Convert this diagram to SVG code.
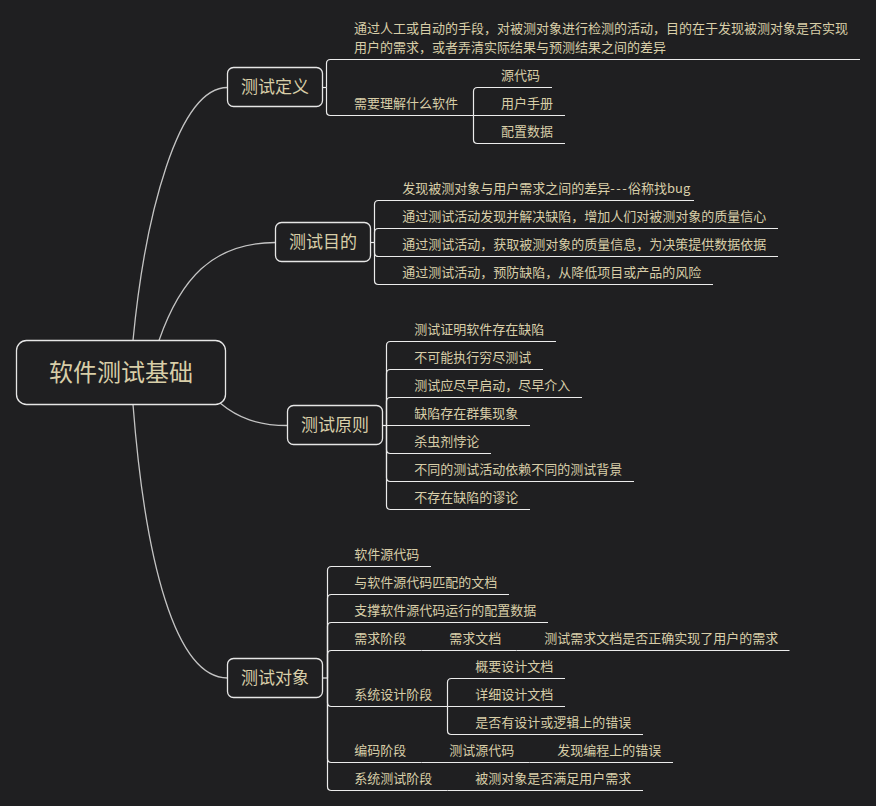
<svg xmlns="http://www.w3.org/2000/svg" width="876" height="806" viewBox="0 0 876 806">
<style>
.bg{fill:#1f1f21}
.node{fill:#1f1f21;stroke:#e6e6e6;stroke-width:1.3}
.curve{fill:none;stroke:#c4c4c4;stroke-width:1.3}
.line{fill:none;stroke:#ececec;stroke-width:1.2}
text{font-family:"Noto Sans CJK SC","Microsoft YaHei","Noto Sans",sans-serif;fill:#d8cea8}
.root{font-size:24px;text-anchor:middle}
.mid{font-size:17px;text-anchor:middle}
.leaf{font-size:13px}
</style>
<rect class="bg" x="0" y="0" width="876" height="806"/>

<g id="connectors">
  <path class="curve" d="M133,340.5 C145,215 178,87.5 227.5,87.5"/>
  <path class="curve" d="M159,340.5 C180,280 212,242.5 275.5,242.5"/>
  <path class="curve" d="M220,403 C238,418 258,425.5 287.5,425.5"/>
  <path class="curve" d="M133,404.5 C145,560 175,678 227.5,678"/>

  <!-- 测试定义 -->
  <path class="line" d="M322.5,87.5 H326.5"/>
  <path class="line" d="M326.5,87.5 V63.5 Q326.5,59.5 330.5,59.5 H860"/>
  <path class="line" d="M326.5,87.5 V111.5 Q326.5,115.5 330.5,115.5 H473.5"/>
  <path class="line" d="M473.5,115.5 V91.5 Q473.5,87.5 477.5,87.5 H552"/>
  <path class="line" d="M473.5,115.5 H565"/>
  <path class="line" d="M473.5,115.5 V139.5 Q473.5,143.5 477.5,143.5 H565"/>

  <!-- 测试目的 -->
  <path class="line" d="M370.5,242.5 H374.5"/>
  <path class="line" d="M374.5,242.5 V204.5 Q374.5,200.5 378.5,200.5 H694"/>
  <path class="line" d="M374.5,242.5 V232.5 Q374.5,228.5 378.5,228.5 H778"/>
  <path class="line" d="M374.5,242.5 V252.5 Q374.5,256.5 378.5,256.5 H778"/>
  <path class="line" d="M374.5,242.5 V280.5 Q374.5,284.5 378.5,284.5 H713"/>

  <!-- 测试原则 -->
  <path class="line" d="M382.5,425.5 H386.5"/>
  <path class="line" d="M386.5,425.5 V345.5 Q386.5,341.5 390.5,341.5 H556"/>
  <path class="line" d="M386.5,425.5 V373.5 Q386.5,369.5 390.5,369.5 H543"/>
  <path class="line" d="M386.5,425.5 V401.5 Q386.5,397.5 390.5,397.5 H582"/>
  <path class="line" d="M386.5,425.5 H530"/>
  <path class="line" d="M386.5,425.5 V449.5 Q386.5,453.5 390.5,453.5 H491"/>
  <path class="line" d="M386.5,425.5 V477.5 Q386.5,481.5 390.5,481.5 H634"/>
  <path class="line" d="M386.5,425.5 V505.5 Q386.5,509.5 390.5,509.5 H530"/>

  <!-- 测试对象 -->
  <path class="line" d="M322.5,678 H327.5"/>
  <path class="line" d="M327.5,678 V570.5 Q327.5,566.5 331.5,566.5 H431"/>
  <path class="line" d="M327.5,678 V598.5 Q327.5,594.5 331.5,594.5 H509"/>
  <path class="line" d="M327.5,678 V626.5 Q327.5,622.5 331.5,622.5 H548"/>
  <path class="line" d="M327.5,678 V654.5 Q327.5,650.5 331.5,650.5 H421.5"/>
  <path class="line" d="M421.5,650.5 H516.5"/>
  <path class="line" d="M516.5,650.5 H789.5"/>
  <path class="line" d="M327.5,678 V702.5 Q327.5,706.5 331.5,706.5 H447.5"/>
  <path class="line" d="M447.5,706.5 V682.5 Q447.5,678.5 451.5,678.5 H565"/>
  <path class="line" d="M447.5,706.5 H565"/>
  <path class="line" d="M447.5,706.5 V730.5 Q447.5,734.5 451.5,734.5 H643"/>
  <path class="line" d="M327.5,678 V758.5 Q327.5,762.5 331.5,762.5 H421.5"/>
  <path class="line" d="M421.5,762.5 H529.5"/>
  <path class="line" d="M529.5,762.5 H673"/>
  <path class="line" d="M327.5,678 V786.5 Q327.5,790.5 331.5,790.5 H447.5"/>
  <path class="line" d="M447.5,790.5 H643"/>
</g>

<g id="root">
  <rect class="node" x="16.5" y="340.5" width="209" height="64" rx="10"/>
  <text class="root" x="121" y="381">软件测试基础</text>
</g>

<g id="n-def">
  <rect class="node" x="227.5" y="67.5" width="95" height="39" rx="6"/>
  <text class="mid" x="275" y="93">测试定义</text>
</g>
<g id="n-def-1">
  <text class="leaf" x="354" y="33">通过人工或自动的手段，对被测对象进行检测的活动，目的在于发现被测对象是否实现</text>
  <text class="leaf" x="354" y="52">用户的需求，或者弄清实际结果与预测结果之间的差异</text>
</g>
<g id="n-def-2"><text class="leaf" x="354" y="108">需要理解什么软件</text></g>
<g id="n-def-2a"><text class="leaf" x="501" y="80">源代码</text></g>
<g id="n-def-2b"><text class="leaf" x="501" y="108">用户手册</text></g>
<g id="n-def-2c"><text class="leaf" x="501" y="136">配置数据</text></g>

<g id="n-goal">
  <rect class="node" x="275.5" y="222.5" width="95" height="39" rx="6"/>
  <text class="mid" x="323" y="248">测试目的</text>
</g>
<g id="n-goal-1"><text class="leaf" x="402.3" y="193">发现被测对象与用户需求之间的差异<tspan letter-spacing="1.4">---</tspan>俗称找bug</text></g>
<g id="n-goal-2"><text class="leaf" x="402.3" y="221">通过测试活动发现并解决缺陷，增加人们对被测对象的质量信心</text></g>
<g id="n-goal-3"><text class="leaf" x="402.3" y="249">通过测试活动，获取被测对象的质量信息，为决策提供数据依据</text></g>
<g id="n-goal-4"><text class="leaf" x="402.3" y="277">通过测试活动，预防缺陷，从降低项目或产品的风险</text></g>

<g id="n-principle">
  <rect class="node" x="287.5" y="405.5" width="95" height="39" rx="6"/>
  <text class="mid" x="335" y="431">测试原则</text>
</g>
<g id="n-pr-1"><text class="leaf" x="414.3" y="334">测试证明软件存在缺陷</text></g>
<g id="n-pr-2"><text class="leaf" x="414.3" y="362">不可能执行穷尽测试</text></g>
<g id="n-pr-3"><text class="leaf" x="414.3" y="390">测试应尽早启动，尽早介入</text></g>
<g id="n-pr-4"><text class="leaf" x="414.3" y="418">缺陷存在群集现象</text></g>
<g id="n-pr-5"><text class="leaf" x="414.3" y="446">杀虫剂悖论</text></g>
<g id="n-pr-6"><text class="leaf" x="414.3" y="474">不同的测试活动依赖不同的测试背景</text></g>
<g id="n-pr-7"><text class="leaf" x="414.3" y="502">不存在缺陷的谬论</text></g>

<g id="n-object">
  <rect class="node" x="227.5" y="658.5" width="95" height="39" rx="6"/>
  <text class="mid" x="275" y="684">测试对象</text>
</g>
<g id="n-ob-1"><text class="leaf" x="354.3" y="559">软件源代码</text></g>
<g id="n-ob-2"><text class="leaf" x="354.3" y="587">与软件源代码匹配的文档</text></g>
<g id="n-ob-3"><text class="leaf" x="354.3" y="615">支撑软件源代码运行的配置数据</text></g>
<g id="n-ob-4"><text class="leaf" x="354.3" y="643">需求阶段</text></g>
<g id="n-ob-4a"><text class="leaf" x="449.3" y="643">需求文档</text></g>
<g id="n-ob-4b"><text class="leaf" x="544.3" y="643">测试需求文档是否正确实现了用户的需求</text></g>
<g id="n-ob-5"><text class="leaf" x="354.3" y="699">系统设计阶段</text></g>
<g id="n-ob-5a"><text class="leaf" x="475.3" y="671">概要设计文档</text></g>
<g id="n-ob-5b"><text class="leaf" x="475.3" y="699">详细设计文档</text></g>
<g id="n-ob-5c"><text class="leaf" x="475.3" y="727">是否有设计或逻辑上的错误</text></g>
<g id="n-ob-6"><text class="leaf" x="354.3" y="755">编码阶段</text></g>
<g id="n-ob-6a"><text class="leaf" x="449.3" y="755">测试源代码</text></g>
<g id="n-ob-6b"><text class="leaf" x="557.3" y="755">发现编程上的错误</text></g>
<g id="n-ob-7"><text class="leaf" x="354.3" y="783">系统测试阶段</text></g>
<g id="n-ob-7a"><text class="leaf" x="475.3" y="783">被测对象是否满足用户需求</text></g>
</svg>
